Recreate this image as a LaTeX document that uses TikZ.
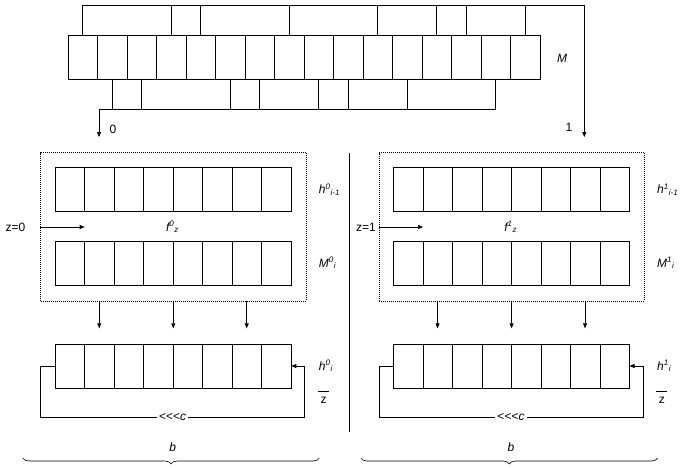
\documentclass[tikz,border=0pt]{standalone}
\usepackage{fontspec}
\setmainfont{Liberation Sans}
\usetikzlibrary{arrows.meta,decorations.pathreplacing}

\begin{document}
\begin{tikzpicture}[x=1pt, y=-1pt, line width=0.6pt,
    font=\fontsize{12}{14}\selectfont,
    >={Triangle[length=5pt,width=4pt]},
    cell/.style={draw, inner sep=0pt, minimum width=29.5pt, minimum height=44pt},
    zone/.style={draw, dash pattern=on 1pt off 1pt, inner sep=0pt},
    shiftlbl/.style={fill=white, inner sep=2pt},
    accol/.style={decorate, decoration={brace, mirror, amplitude=6pt}}]
    \useasboundingbox (0,0) rectangle (680,467);

    % Message M
    \foreach \i in {0,...,15}
        \node[cell] (m\i) at (82.75+29.5*\i, 57) {};
    \node (lm) at (562, 58) {\textit{M}};

    % Aiguillage des blocs
    \coordinate (s0) at (99, 137);
    \coordinate (s1) at (584.3, 137);
    \draw[->] (m0.north) -- ++(0,-29.5) -| (s1);
    \foreach \i in {3,4,7,10,12,13,15}
        \draw (m\i.north) -- ++(0,-29.5);
    \draw[->] (m14.south) -- ++(0,29.5) -| (s0);
    \foreach \i in {1,2,5,6,8,9,11}
        \draw (m\i.south) -- ++(0,29.5);
    \node (l0) at (113, 129) {0};
    \node (l1) at (569, 127) {1};

    % Separation
    \draw (349.5, 153) -- (349.5, 432);

    % Les deux branches
    \foreach \p/\dx/\zx in {0/0/15.5, 1/338.3/366} {
        \node[zone, minimum width=265.3pt, minimum height=148.3pt] (box\p) at (173.35+\dx, 226.85) {};
        \foreach \i in {0,...,7} {
            \node[cell] (h\p\i) at (69.75+\dx+29.5*\i, 189.5) {};
            \node[cell] (n\p\i) at (69.75+\dx+29.5*\i, 263) {};
            \node[cell] (o\p\i) at (69.75+\dx+29.5*\i, 366) {};
        }
        \node[anchor=west] (lh\p) at ([xshift=9pt]box\p.east |- h\p7) {\textit{h\textsuperscript{\p}\textsubscript{i-1}}};
        \node[anchor=west] (ln\p) at ([xshift=9pt]box\p.east |- n\p7) {\textit{M\textsuperscript{\p}\textsubscript{i}}};
        \node (z\p) at (\zx, 227) {z=\p};
        \draw[->] (box\p.west |- z\p) -- ++(44.3,0);
        \node (f\p) at (172.5+\dx, 227) {\textit{f\textsuperscript{\p}\textsubscript{z}}};

        % vers le registre de sortie
        \draw[->] (box\p.south -| o\p1) -- ++(0,27);
        \draw[->] (box\p.south -| o\p3.east) -- ++(0,27);
        \draw[->] (box\p.south -| o\p6) -- ++(0,27);

        % rotation
        \draw[->] (o\p0.west) -- ++(-14,0) -- ++(0,51)
            -- node[shiftlbl] {\mbox{<}\mbox{<}\mbox{<}\textit{c}} ++(264,0) |- (o\p7.east);
        \node[anchor=west] (lo\p) at ([xshift=9pt]box\p.east |- o\p7) {\textit{h\textsuperscript{\p}\textsubscript{i}}};
        \node (zb\p) at (323.5+\dx, 397) {$\overline{\mbox{\hspace{2.5pt}\rule{0pt}{11pt}z\hspace{2.5pt}}}$};

        % largeur b
        \node (b\p) at (172.7+\dx, 447) {\textit{b}};
        \draw[accol] (22.7+\dx, 458) -- (319.3+\dx, 458);
    }
\end{tikzpicture}
\end{document}
